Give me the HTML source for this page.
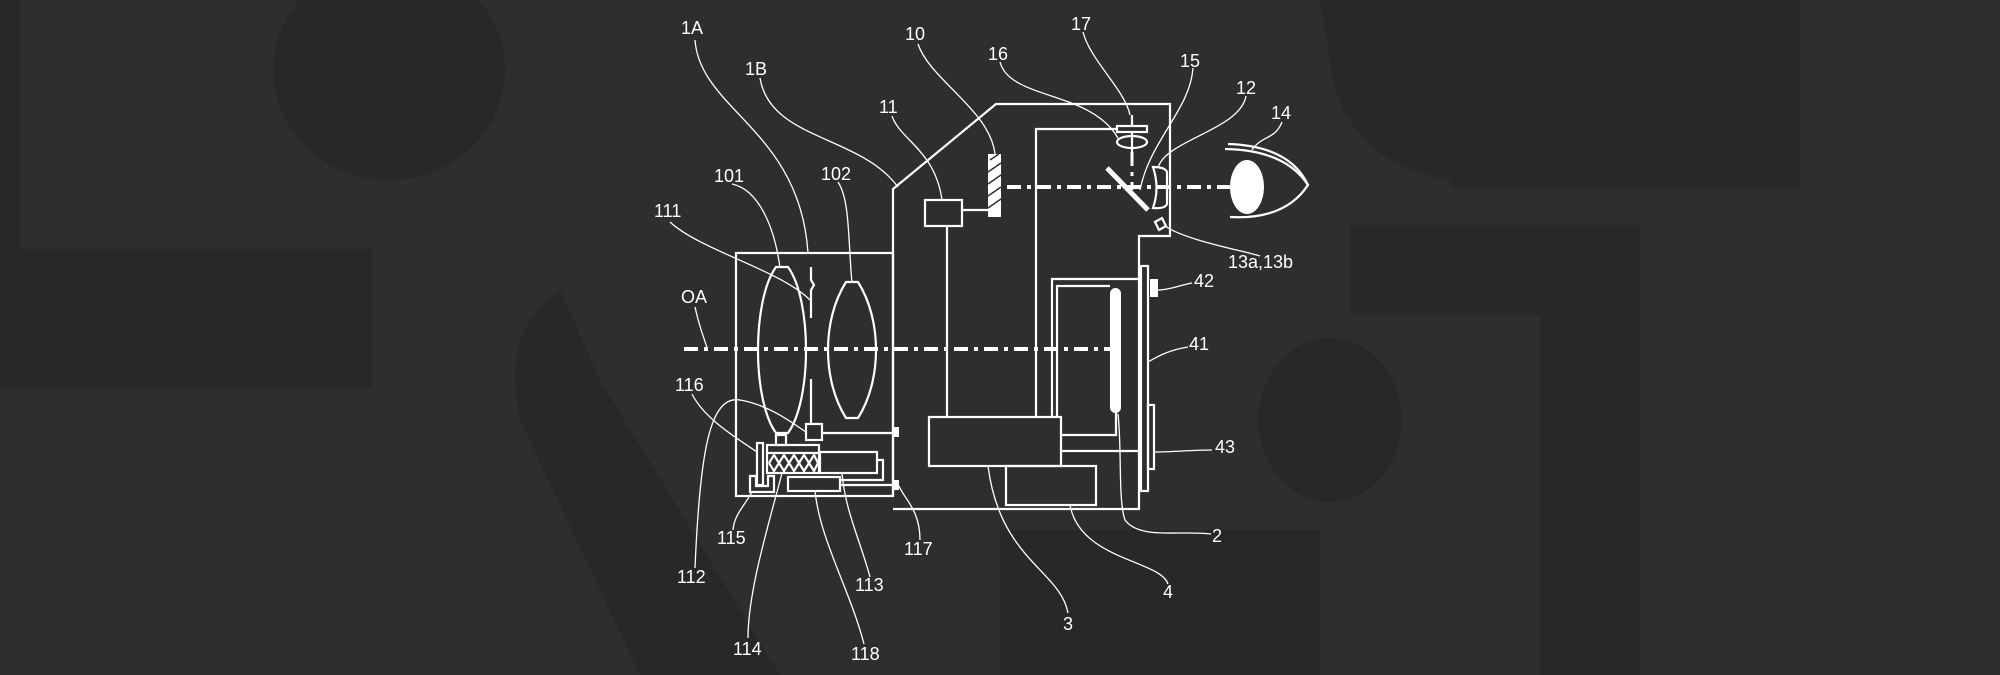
<!DOCTYPE html>
<html><head><meta charset="utf-8"><style>
html,body{margin:0;padding:0;background:#2d2d2d;}
svg{display:block}
text{font-family:"Liberation Sans",sans-serif;font-size:18px;fill:#fff}
</style></head><body>
<svg width="2000" height="675" viewBox="0 0 2000 675" xmlns="http://www.w3.org/2000/svg">
<rect width="2000" height="675" fill="#2e2e2e"/>
<g fill="#282828">
<rect x="0" y="0" width="20" height="250"/>
<rect x="0" y="249" width="372" height="140"/>
<ellipse cx="389" cy="70" rx="116" ry="110"/>
<rect x="1330" y="0" width="470" height="60"/>
<rect x="1450" y="48" width="350" height="140"/>
<path d="M1320 0 L1330 60 Q1340 160 1450 180 L1450 0Z"/>
<rect x="1350" y="225" width="290" height="90"/>
<rect x="1540" y="300" width="100" height="380"/>
<ellipse cx="1330" cy="420" rx="72" ry="82"/>
<rect x="1000" y="530" width="320" height="145"/>
<path d="M560 290 Q500 330 520 420 L640 675 L780 675 L600 380Z" />
</g>
<g fill="none" stroke="#fff" stroke-width="2.2">
<rect x="736" y="253" width="157" height="243"/>
<path d="M893 496 L893 189 L996 104 L1170 104 L1170 236 L1139 236 L1139 509 L893 509"/>
<path d="M776 267 L788 267 C812 300 812 400 788 433 L776 433 C752 400 752 300 776 267Z"/>
<path d="M846 282 L858 282 C882 320 882 380 858 418 L846 418 C822 380 822 320 846 282Z"/>
<path d="M811 267 L811 280 L814 285 L811 290 L811 318 M811 379 L811 424"/>
<rect x="806" y="424" width="16" height="16"/>
<path d="M822 433 L894 433"/>
<rect x="776" y="435" width="10" height="10"/>
<rect x="767" y="445" width="52" height="28"/>
<path d="M767 453 L819 453"/>
<path d="M769 463 L774 455 L779 463 L784 455 L789 463 L794 455 L799 463 L804 455 L809 463 L814 455 L818 463 M769 463 L774 471 L779 463 L784 471 L789 463 L794 471 L799 463 L804 471 L809 463 L814 471 L818 463"/>
<rect x="757" y="443" width="6" height="42"/>
<path d="M750 476 L750 492 L774 492 L774 476 L768 476 L768 486 L756 486 L756 476Z"/>
<rect x="820" y="452" width="57" height="21"/>
<path d="M877 460 L883 460 L883 480 L840 480"/>
<rect x="788" y="477" width="52" height="14"/>
<path d="M840 485 L894 485"/>
<rect x="925" y="200" width="37" height="26"/>
<path d="M962 210 L988 210"/>
<path d="M947 226 L947 417"/>
<rect x="929" y="417" width="132" height="49"/>
<rect x="1006" y="466" width="90" height="39"/>
<path d="M1036 417 L1036 129 L1117 129"/>
<path d="M1052 417 L1052 279 L1141 279"/>
<path d="M1057 417 L1057 286 L1110 286"/>
<path d="M1061 435 L1116 435 L1116 405"/>
<path d="M1061 451 L1141 451"/>
<rect x="1141" y="266" width="7" height="225"/>
<rect x="1148" y="405" width="6" height="64"/>
<rect x="1117" y="126" width="30" height="6"/>
<path d="M1132 115 L1132 126"/>
<ellipse cx="1132" cy="142" rx="15" ry="6"/>
<path d="M1132 132 L1132 152" />
<path d="M1153 167 Q1165 167 1167 172 L1167 204 Q1165 209 1153 208 Q1160 188 1153 167Z"/>
<path d="M1155 222 L1162 218 L1166 226 L1159 230Z"/>
<path d="M1225 149 Q1285 150 1308 185 Q1285 220 1230 217"/>
<path d="M1228 144 Q1290 146 1308 185"/>
</g>
<path d="M1107 168 L1148 210" stroke="#fff" stroke-width="5"/>
<ellipse cx="1247" cy="187" rx="17" ry="27" fill="#fff"/>
<rect x="1110" y="288" width="11" height="125" rx="5.5" fill="#fff"/>
<rect x="988" y="154" width="13" height="63" fill="#fff"/>
<path d="M990 160 l9 -6 M988 172 l13 -9 M988 184 l13 -9 M988 196 l13 -9 M988 208 l13 -9" stroke="#2e2e2e" stroke-width="1.5"/>
<rect x="1150" y="279" width="8" height="18" fill="#fff"/>
<rect x="894" y="427" width="5" height="10" fill="#fff"/>
<rect x="894" y="480" width="5" height="10" fill="#fff"/>
<g stroke="#fff" stroke-width="4" stroke-dasharray="14 6 4 6" fill="none">
<path d="M684 349 L1110 349"/>
<path d="M1007 187 L1230 187"/>
<path d="M1132 152 L1132 190" stroke-width="3"/>
</g>
<g fill="none" stroke="#fff" stroke-width="1.3">
<path d="M695 40 C700 110 800 130 808 253"/>
<path d="M760 78 C770 140 860 135 898 187"/>
<path d="M918 44 C930 80 990 110 995 154"/>
<path d="M892 116 C900 140 935 150 942 200"/>
<path d="M1000 62 C1010 100 1090 90 1118 138"/>
<path d="M1083 32 C1090 60 1125 90 1130 115"/>
<path d="M1193 68 C1190 110 1150 140 1140 190"/>
<path d="M1246 96 C1240 130 1165 140 1158 168"/>
<path d="M1282 122 C1275 140 1262 135 1252 150"/>
<path d="M1260 256 C1240 250 1185 240 1165 226"/>
<path d="M1192 283 C1180 285 1170 290 1158 290"/>
<path d="M1188 347 C1170 350 1160 355 1148 362"/>
<path d="M1212 450 C1190 450 1175 452 1154 452"/>
<path d="M1211 534 C1180 530 1140 540 1125 520 C1118 500 1122 450 1118 414"/>
<path d="M1168 584 C1160 560 1080 560 1070 505"/>
<path d="M1068 613 C1060 570 1000 560 988 466"/>
<path d="M920 540 C920 510 905 500 899 486"/>
<path d="M870 577 C860 540 845 510 842 473"/>
<path d="M864 644 C850 590 820 540 815 491"/>
<path d="M748 638 C748 590 770 520 782 473"/>
<path d="M695 568 C700 450 710 395 740 400 C770 405 795 425 806 432"/>
<path d="M692 394 C705 420 740 440 757 452"/>
<path d="M733 530 C734 515 745 505 752 492"/>
<path d="M670 222 C700 250 780 270 810 300"/>
<path d="M732 184 C760 190 775 230 780 268"/>
<path d="M838 182 C850 200 848 240 852 283"/>
<path d="M695 307 C700 330 705 340 707 348"/>
</g>
<g>
<text x="681" y="34">1A</text>
<text x="745" y="75">1B</text>
<text x="905" y="40">10</text>
<text x="879" y="113">11</text>
<text x="988" y="60">16</text>
<text x="1071" y="30">17</text>
<text x="1180" y="67">15</text>
<text x="1236" y="94">12</text>
<text x="1271" y="119">14</text>
<text x="1228" y="268">13a,13b</text>
<text x="1194" y="287">42</text>
<text x="1189" y="350">41</text>
<text x="1215" y="453">43</text>
<text x="1212" y="542">2</text>
<text x="1163" y="598">4</text>
<text x="1063" y="630">3</text>
<text x="904" y="555">117</text>
<text x="855" y="591">113</text>
<text x="851" y="660">118</text>
<text x="733" y="655">114</text>
<text x="677" y="583">112</text>
<text x="717" y="544">115</text>
<text x="675" y="391">116</text>
<text x="654" y="217">111</text>
<text x="714" y="182">101</text>
<text x="821" y="180">102</text>
<text x="681" y="303">OA</text>
</g>
</svg>
</body></html>
